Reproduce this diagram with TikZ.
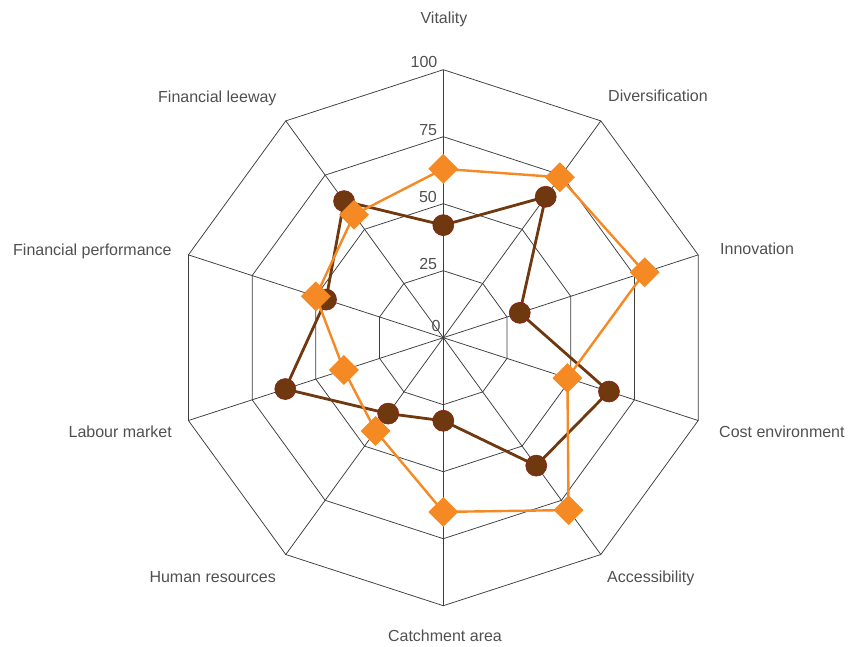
\documentclass[tikz,border=0pt]{standalone}
\usepackage{fontspec}
\setmainfont{Liberation Sans}
\usetikzlibrary{shapes.geometric}
\definecolor{gridc}{RGB}{60,60,60}
\definecolor{txtc}{RGB}{80,80,80}
\definecolor{brownc}{RGB}{112,56,14}
\definecolor{brownedge}{RGB}{140,30,25}
\definecolor{orangec}{RGB}{245,137,35}
\begin{document}
\begin{tikzpicture}[x=1pt,y=1pt,
  gridline/.style={draw=gridc,line width=0.75pt},
  lbl/.style={font=\fontsize{16}{18}\selectfont,text=txtc,inner sep=0pt},
  tick/.style={font=\fontsize{16}{18}\selectfont,text=txtc,inner sep=0pt,anchor=east},
  bline/.style={draw=brownc,line width=2.8pt,line join=round},
  oline/.style={draw=orangec,line width=2.4pt,line join=round},
  bmark/.style={circle,fill=brownc,draw=brownedge,line width=0.6pt,minimum size=21pt,inner sep=0pt},
  omark/.style={diamond,fill=orangec,minimum width=30pt,minimum height=30pt,inner sep=0pt,aspect=1}]
\useasboundingbox (0,0) rectangle (848,646);
\coordinate (C) at (443.3,308.3);
\begin{scope}[shift={(C)}]
  % rings
  \foreach \r in {67,134,201,268}{
    \draw[gridline] (90:\r) \foreach \i in {1,...,9}{ -- (90-36*\i:\r)} -- cycle;
  }
  % spokes
  \foreach \i in {0,...,9}{
    \coordinate (v\i) at (90-36*\i:268);
    \draw[gridline] (C) -- (v\i);
  }
  % data points
  \foreach \i/\v in {0/42,1/65,2/30,3/65,4/59,5/31,6/35,7/62,8/46,9/63}{
    \coordinate (b\i) at (90-36*\i:2.68*\v);
  }
  \foreach \i/\v in {0/63,1/74,2/79,3/48.7,4/79.5,5/65,6/43,7/39,8/50,9/56.7}{
    \coordinate (o\i) at (90-36*\i:2.68*\v);
  }
\end{scope}
% tick labels
\node[tick] (t100) at (437.5,584) {100};
\node[tick] (t75) at (437.3,516) {75};
\node[tick] (t50) at (437,449) {50};
\node[tick] (t25) at (437.3,382.5) {25};
\node[tick] (t0) at (440.7,320.5) {0};
% axis labels
\node[lbl,anchor=base] (l0) at (444,622.7) {Vitality};
\node[lbl,anchor=base west] (l1) at (608,544.3) {Diversification};
\node[lbl,anchor=base west] (l2) at (720,391) {Innovation};
\node[lbl,anchor=base west] (l3) at (719,209) {Cost environment};
\node[lbl,anchor=base west] (l4) at (607,64) {Accessibility};
\node[lbl,anchor=base] (l5) at (445,5) {Catchment area};
\node[lbl,anchor=base east] (l6) at (276,64) {Human resources};
\node[lbl,anchor=base east] (l7) at (172,209) {Labour market};
\node[lbl,anchor=base east] (l8) at (171.7,390) {Financial performance};
\node[lbl,anchor=base east] (l9) at (276.7,543) {Financial leeway};
% brown series
\draw[bline] (b0) -- (b1) -- (b2) -- (b3) -- (b4) -- (b5) -- (b6) -- (b7) -- (b8) -- (b9) -- cycle;
\foreach \i in {0,...,9}{ \node[bmark] (bm\i) at (b\i) {}; }
% orange series
\draw[oline] (o0) -- (o1) -- (o2) -- (o3) -- (o4) -- (o5) -- (o6) -- (o7) -- (o8) -- (o9) -- cycle;
\foreach \i in {0,...,9}{ \node[omark] (om\i) at (o\i) {}; }
\end{tikzpicture}
\end{document}
